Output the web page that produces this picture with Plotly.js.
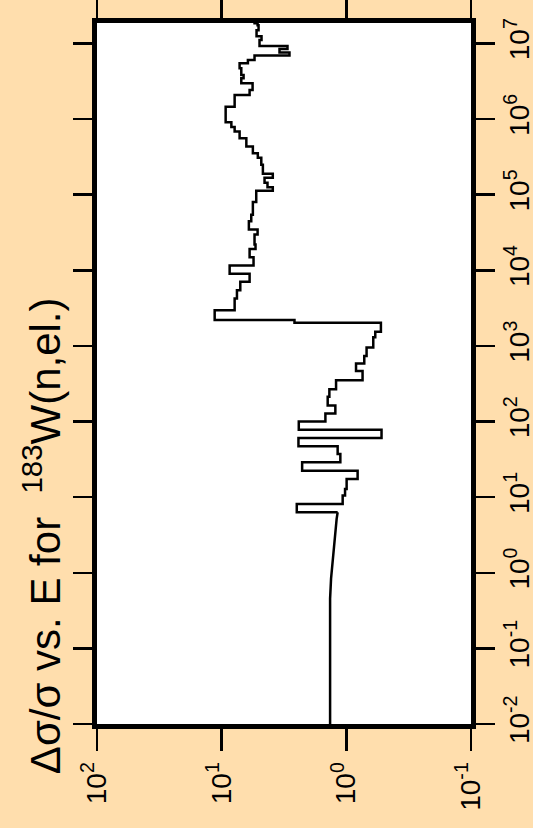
<!DOCTYPE html>
<html><head><meta charset="utf-8">
<script src="https://cdn.plot.ly/plotly-3.0.1.min.js"></script>
<style>html,body{margin:0;padding:0;background:#FFDEAD;overflow:hidden}#chart{width:533px;height:828px}</style>
</head><body><div id="chart"></div>
<script>
// low-energy smooth part (energy in eV, relative uncertainty)
const curveE = [0.01, 0.1, 0.455, 0.836, 1.53, 2.82, 5.17, 6.32];
const curveV = [1.350, 1.350, 1.350, 1.326, 1.287, 1.247, 1.196, 1.174];
// group boundaries (lower edges + top edge)
const stepE = [6.32, 8.14, 10.5, 12.8, 17.4, 22.4, 28.9, 37.2, 47.0, 60.5, 77.8, 100, 128, 163, 212, 267, 351, 466, 584, 736, 949,
  1297, 1542, 2027, 2207, 2972, 4244, 5460, 7046, 8983, 11560, 14870, 19180, 21860, 29630, 34490, 44390, 54360, 79940,
  112700, 125300, 143600, 167100, 188700, 248100, 307000, 354000, 432600, 558400, 682500, 787300, 907900,
  1.458e6, 2.081e6, 2.422e6, 2.967e6, 3.454e6, 3.818e6, 4.679e6, 5.447e6, 6.023e6, 6.905e6, 7.567e6, 8.413e6, 9.21e6,
  1.106e7, 1.248e7, 1.497e7, 1.742e7, 1.853e7, 2.0e7];
// group values
const stepV = [2.498, 1.070, 1.024, 0.9945, 0.812, 2.262, 1.117, 1.174, 2.421, 0.522, 2.407, 1.472, 1.225, 1.411, 1.368, 1.209,
  0.741, 0.836, 0.718, 0.688, 0.608, 0.586, 0.528, 2.606, 11.38, 7.87, 7.54, 7.09, 5.97, 8.63, 5.55, 5.97, 5.35, 5.45, 5.15,
  6.05, 5.79, 5.62, 5.28, 3.89, 4.29, 4.53, 3.89, 4.67, 4.81, 5.13, 5.62, 6.34, 7.18, 7.87, 8.36, 9.29, 7.87, 5.97, 5.65,
  6.96, 6.67, 6.96, 7.18, 6.16, 5.45, 2.858, 3.436, 2.965, 4.97, 4.79, 5.25, 5.06, 5.15, 5.45];
const energyTicks = [1e-2, 1e-1, 1e0, 1e1, 1e2, 1e3, 1e4, 1e5, 1e6, 1e7];
const energyLabels = ['10<sup>-2</sup>', '10<sup>-1</sup>', '10<sup>0</sup>', '10<sup>1</sup>', '10<sup>2</sup>',
  '10<sup>3</sup>', '10<sup>4</sup>', '10<sup>5</sup>', '10<sup>6</sup>', '10<sup>7</sup>'];
const ratioTicks = [100, 10, 1, 0.1];
const ratioLabels = ['10<sup>2</sup>', '10<sup>1</sup>', '10<sup>0</sup>', '10<sup>-1</sup>'];
const titleText = 'Δσ/σ vs. E for  <sup>183</sup>W(n,el.)';

const lineStyle = {color: '#000000', width: 2.5};
const traces = [
  {type: 'scatter', mode: 'lines', x: curveV, y: curveE, line: lineStyle, hoverinfo: 'skip'},
  {type: 'scatter', mode: 'lines',
   x: [curveV[curveV.length - 1]].concat(stepV, [stepV[stepV.length - 1]]),
   y: [stepE[0]].concat(stepE),
   line: Object.assign({shape: 'vh'}, lineStyle), hoverinfo: 'skip'}
];
const axisCommon = {type: 'log', ticks: 'outside', tickwidth: 2.5, tickcolor: '#000', showline: true, linewidth: 5,
  linecolor: '#000', mirror: 'ticks', showgrid: false, zeroline: false, tickangle: -90,
  tickfont: {size: 28, color: '#000'}};
const layout = {
  width: 533, height: 828,
  paper_bgcolor: '#FFDEAD', plot_bgcolor: '#FFFFFF',
  margin: {l: 97, r: 62, t: 23, b: 104, pad: 0},
  showlegend: false,
  font: {family: 'Liberation Sans, Arial, sans-serif', color: '#000'},
  xaxis: Object.assign({}, axisCommon, {range: [2, -1], tickvals: ratioTicks, ticktext: ratioLabels, ticklen: 22}),
  yaxis: Object.assign({}, axisCommon, {side: 'right', range: [-2, 7.27], tickvals: energyTicks, ticktext: energyLabels,
    ticklen: 19}),
  annotations: [{text: titleText, textangle: -90, xref: 'paper', yref: 'paper', x: -0.147, y: 0.268,
    xanchor: 'center', yanchor: 'middle', showarrow: false, font: {size: 42, color: '#000'}}]
};
Plotly.newPlot('chart', traces, layout, {staticPlot: true, displayModeBar: false});
</script></body></html>
